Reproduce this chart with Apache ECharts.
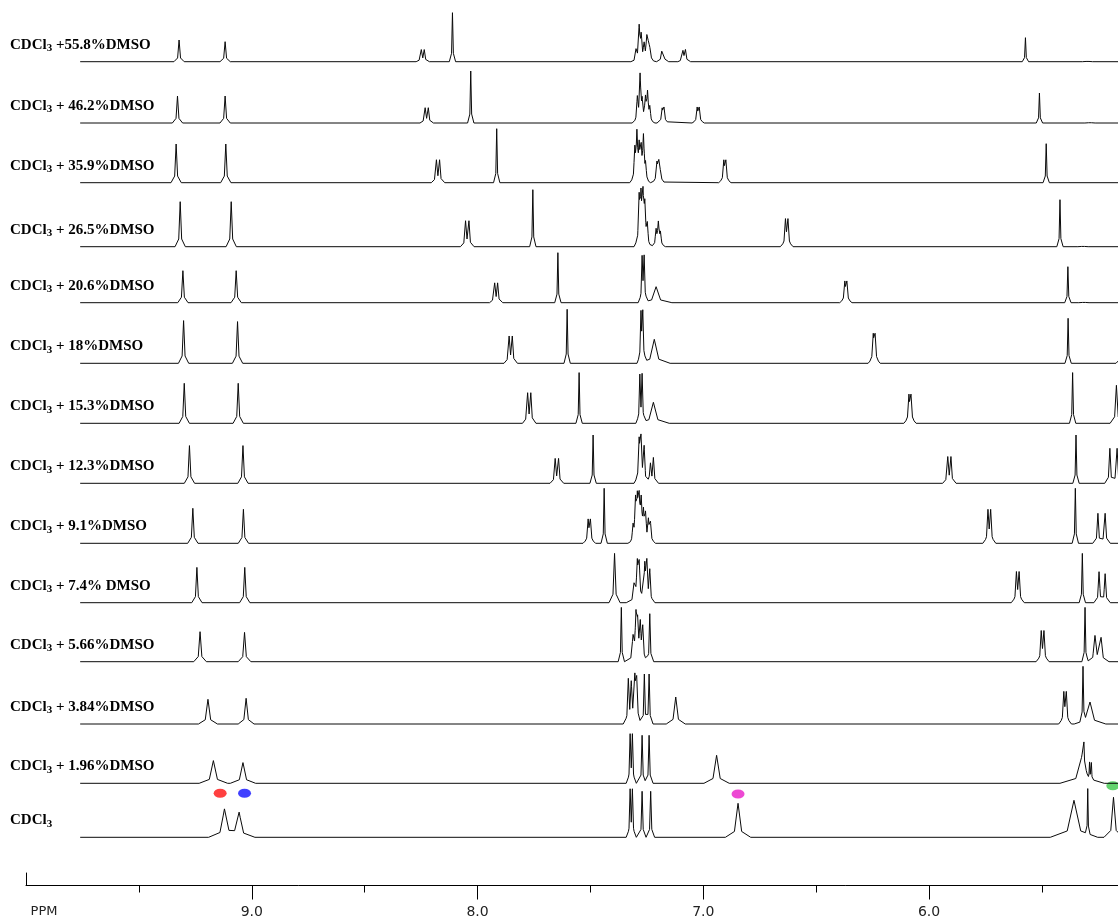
<!DOCTYPE html>
<html><head><meta charset="utf-8">
<script src="https://cdn.jsdelivr.net/npm/echarts@6/dist/echarts.min.js"></script>
<style>html,body{margin:0;padding:0;background:#fff}#c{width:1118px;height:921px}</style>
</head><body><div id="c"></div><script>
// ---------- data (ppm, peak height, optional half-width in ppm) ----------
const spectrumLabels = [
  "CDCl3 +55.8%DMSO","CDCl3 + 46.2%DMSO","CDCl3 + 35.9%DMSO","CDCl3 + 26.5%DMSO",
  "CDCl3 + 20.6%DMSO","CDCl3 + 18%DMSO","CDCl3 + 15.3%DMSO","CDCl3 + 12.3%DMSO",
  "CDCl3 + 9.1%DMSO","CDCl3 + 7.4% DMSO","CDCl3 + 5.66%DMSO","CDCl3 + 3.84%DMSO",
  "CDCl3 + 1.96%DMSO","CDCl3"
];
const peaks558 = [[9.322,21.7],[9.118,20],[8.249,11],[8.236,11],[8.111,49,0.004],
  [7.298,10],[7.284,33],[7.275,24],[7.262,14],[7.250,22],[7.243,16],[7.236,10],
  [7.184,9],[7.176,10],[7.090,10],[7.079,11],[5.573,24,0.004],[5.298,1.5]];
const peaks462 = [[9.329,27],[9.118,27],[8.232,14],[8.218,14],[8.030,52,0.004],
  [7.292,22],[7.280,45],[7.271,18],[7.256,22],[7.247,28],[7.237,13],
  [7.182,13],[7.174,14],[7.027,14],[7.018,14],[5.511,30,0.004],[5.287,1.5]];
const peaks359 = [[9.335,38.7],[9.115,38.7],[8.182,21],[8.168,21],[7.915,54,0.004],
  [7.303,30],[7.294,44],[7.284,30],[7.275,28],[7.265,42],[7.256,15],
  [7.205,18],[7.197,19],[7.190,9],[6.909,20],[6.900,20],[5.481,39,0.004]];
const peaks265 = [[9.317,45],[9.091,45],[8.053,24],[8.038,24],[7.755,57,0.004],
  [7.284,45],[7.276,43],[7.267,45],[7.259,36],[7.248,19],
  [7.209,15],[7.199,22],[7.190,12],[6.636,25],[6.625,25],[5.420,47,0.004],[5.318,1.5]];
const peaks206 = [[9.305,32],[9.069,32],[7.924,18],[7.911,18],[7.644,50,0.004],
  [7.271,42,0.005],[7.262,42,0.005],[7.209,16,0.02],[6.373,19],[6.364,19],
  [5.385,36,0.004],[5.314,1.5]];
const peaks180 = [[9.302,42.7],[9.063,41.7],[7.860,25],[7.846,25],[7.603,54,0.004],
  [7.276,46,0.005],[7.268,46,0.005],[7.217,24,0.02],[6.247,26],[6.239,26],
  [5.384,45,0.004],[5.130,40,0.012]];
const peaks153 = [[9.299,40],[9.060,40],[7.778,28],[7.764,28],[7.550,50.7,0.004],
  [7.281,44,0.005],[7.271,44,0.005],[7.221,21,0.02],[6.089,25.5],[6.080,25.5],
  [5.364,50.7,0.004],[5.170,38,0.008]];
const peaks123 = [[9.276,37.7],[9.039,37.7],[7.656,23],[7.641,23],[7.488,48.3,0.004],
  [7.284,40],[7.276,40],[7.262,34],[7.234,18],[7.221,24],[5.917,24.5],[5.903,24.5],
  [5.349,48.3,0.004],[5.199,35],[5.167,35]];
const peaks91 = [[9.261,35],[9.037,34],[7.510,21.5],[7.500,21.5],[7.439,55,0.004],
  [7.311,14],[7.300,38],[7.292,38],[7.284,38],[7.275,36],[7.265,26],[7.256,25],[7.243,20],[7.234,19],
  [5.739,30.5],[5.727,30.5],[5.352,55,0.004],[5.252,30],[5.220,30]];
const peaks74 = [[9.243,35.3],[9.031,35.3],[7.393,49.3,0.007],
  [7.306,18,0.01],[7.292,36],[7.284,36],[7.259,36],[7.250,36],[7.237,30],
  [5.613,28],[5.601,28],[5.321,49.3,0.004],[5.247,31],[5.220,29]];
const peaks566 = [[9.229,30,0.008],[9.032,29.3,0.008],[7.363,54.3,0.004],
  [7.311,22,0.01],[7.298,42],[7.291,34],[7.279,32],[7.268,34],[7.237,48,0.005],
  [5.503,28],[5.491,28],[5.309,54.3,0.004],[5.265,25,0.01],[5.238,23,0.01]];
const peaks384 = [[9.194,24.7,0.012],[9.025,25.7,0.01],
  [7.332,42],[7.319,36],[7.303,42],[7.295,42],[7.261,50,0.005],[7.240,50,0.005],
  [7.122,27,0.012],[5.403,29],[5.392,29],[5.318,54.7,0.004],[5.287,22,0.02]];
const peaks196 = [[9.170,22.7,0.018],[9.039,20.7,0.016],
  [7.324,45,0.005],[7.314,45,0.005],[7.271,48,0.005],[7.240,48,0.005],
  [6.941,28,0.016],[5.322,28,0.028],[5.314,20,0.003],[5.289,16,0.003],[5.281,16,0.003]];
const peaksCDCl3 = [[9.121,28,0.02],[9.056,24.7,0.02],
  [7.324,44,0.005],[7.314,44,0.005],[7.271,46,0.005],[7.233,46,0.005],
  [6.846,34,0.016],[5.358,37,0.03],[5.297,45,0.003],[5.183,40,0.012]];
const allPeaks = [peaks558,peaks462,peaks359,peaks265,peaks206,peaks180,peaks153,
  peaks123,peaks91,peaks74,peaks566,peaks384,peaks196,peaksCDCl3];

// assignment markers: ppm and vertical level (same units as the traces)
const markerPpm = [9.140, 9.032, 6.846, 5.186];
const markerLevel = [86.7, 86.7, 86, 94.3];
const markerColors = ['#ff1010', '#1010ff', '#e81cc8', '#3cc84a'];

// axis ticks
const majorTicks = [9, 8, 7, 6];
const minorTicks = [9.5, 8.5, 7.5, 6.5, 5.5];
const tickLabels = ['PPM', '9.0', '8.0', '7.0', '6.0'];
const tickLabelValues = [10, 9, 8, 7, 6];

// ---------- layout ----------
const baselinePx = [61.7,123,182.7,246.7,302.7,363.3,423.3,483.3,543.3,602.7,661.7,724,783.3,837.3];
const PLOT_H = 880;
const X_MIN = 5.163, X_MAX = 10, TRACE_START = 9.76, TRACE_END = 5.0;

function tri(x, c, h, w) { const d = Math.abs(x - c); return d >= w ? 0 : h * (1 - d / w); }
function trace(peaks, base) {
  const shapes = [];
  peaks.forEach(p => {
    const w = p[2] || 0.0065;
    shapes.push([p[0], p[1] * 0.76, w]);
    shapes.push([p[0], p[1] * 0.24, w * 3.5]);
  });
  const xs = new Set([TRACE_START, TRACE_END]);
  shapes.forEach(s => { xs.add(s[0] - s[2]); xs.add(s[0]); xs.add(s[0] + s[2]); });
  const arr = [...xs].filter(x => x <= TRACE_START && x >= TRACE_END).sort((a, b) => b - a);
  return arr.map(x => [x, base + shapes.reduce((a, s) => a + tri(x, s[0], s[1], s[2]), 0)]);
}

const baseVals = baselinePx.map(p => PLOT_H - p);
const labelVals = baselinePx.map(p => PLOT_H - (p - 17));

const serif = '"Liberation Serif","Times New Roman",serif';
const sans = '"DejaVu Sans",Verdana,sans-serif';
const series = allPeaks.map((pk, i) => ({
  type: 'line', xAxisIndex: 0, yAxisIndex: 0, data: trace(pk, baseVals[i]),
  symbol: 'none', showSymbol: false, clip: true, silent: true,
  lineStyle: { color: '#0a0a0a', width: 1 }
}));
series.push({
  type: 'scatter', xAxisIndex: 0, yAxisIndex: 0, symbol: 'circle', symbolSize: [13, 9],
  data: markerPpm.map((p, i) => ({ value: [p, markerLevel[i]], itemStyle: { color: markerColors[i] } })),
  silent: true
});

const chart = echarts.init(document.getElementById('c'), null, { renderer: 'canvas' });
chart.setOption({
  animation: false,
  backgroundColor: '#fff',
  grid: [
    { left: 26, right: 0, top: 0, height: PLOT_H },
    { left: 26, right: 0, top: 873, height: 12.5 }
  ],
  xAxis: [
    { gridIndex: 0, type: 'value', min: X_MIN, max: X_MAX, inverse: true, show: false },
    { gridIndex: 1, type: 'value', min: X_MIN, max: X_MAX, inverse: true, position: 'bottom',
      axisLine: { show: true, onZero: false, lineStyle: { color: '#000', width: 1 } },
      axisTick: { show: true, customValues: majorTicks, length: 14, lineStyle: { color: '#000' } },
      splitLine: { show: false },
      axisLabel: { customValues: tickLabelValues, margin: 20, fontSize: 14, color: '#222',
        fontFamily: sans,
        formatter: v => { const i = tickLabelValues.indexOf(v); const t = i >= 0 ? tickLabels[i] : ''; return i === 0 ? '{p|' + t + '}' : t; },
        rich: { p: { fontSize: 13, color: '#222', fontFamily: sans, padding: [0, 0, 0, 36] } } } },
    { gridIndex: 1, type: 'value', min: X_MIN, max: X_MAX, inverse: true, position: 'bottom',
      axisLine: { show: false, onZero: false },
      axisTick: { show: true, customValues: minorTicks, length: 7, lineStyle: { color: '#000' } },
      axisLabel: { show: false }, splitLine: { show: false } }
  ],
  yAxis: [
    { gridIndex: 0, type: 'value', min: 0, max: PLOT_H, position: 'left',
      axisLine: { show: false }, axisTick: { show: false }, splitLine: { show: false },
      axisLabel: { customValues: labelVals, align: 'left', margin: 16,
        formatter: v => {
          const i = labelVals.findIndex(c => Math.abs(c - v) < 0.5);
          if (i < 0) return '';
          const rest = spectrumLabels[i].replace('CDCl3', '');
          return '{n|CDCl}{s|3}' + (rest ? '{n|' + rest + '}' : '');
        },
        rich: {
          n: { fontFamily: serif, fontWeight: 'bold', fontSize: 15, color: '#000', lineHeight: 18 },
          s: { fontFamily: serif, fontWeight: 'bold', fontSize: 11, color: '#000', lineHeight: 10, verticalAlign: 'bottom' }
        } } },
    { gridIndex: 1, type: 'value', min: 0, max: 1,
      axisLine: { show: true, onZero: false, lineStyle: { color: '#000', width: 1 } },
      axisTick: { show: false }, axisLabel: { show: false }, splitLine: { show: false } }
  ],
  series: series
});
</script></body></html>
